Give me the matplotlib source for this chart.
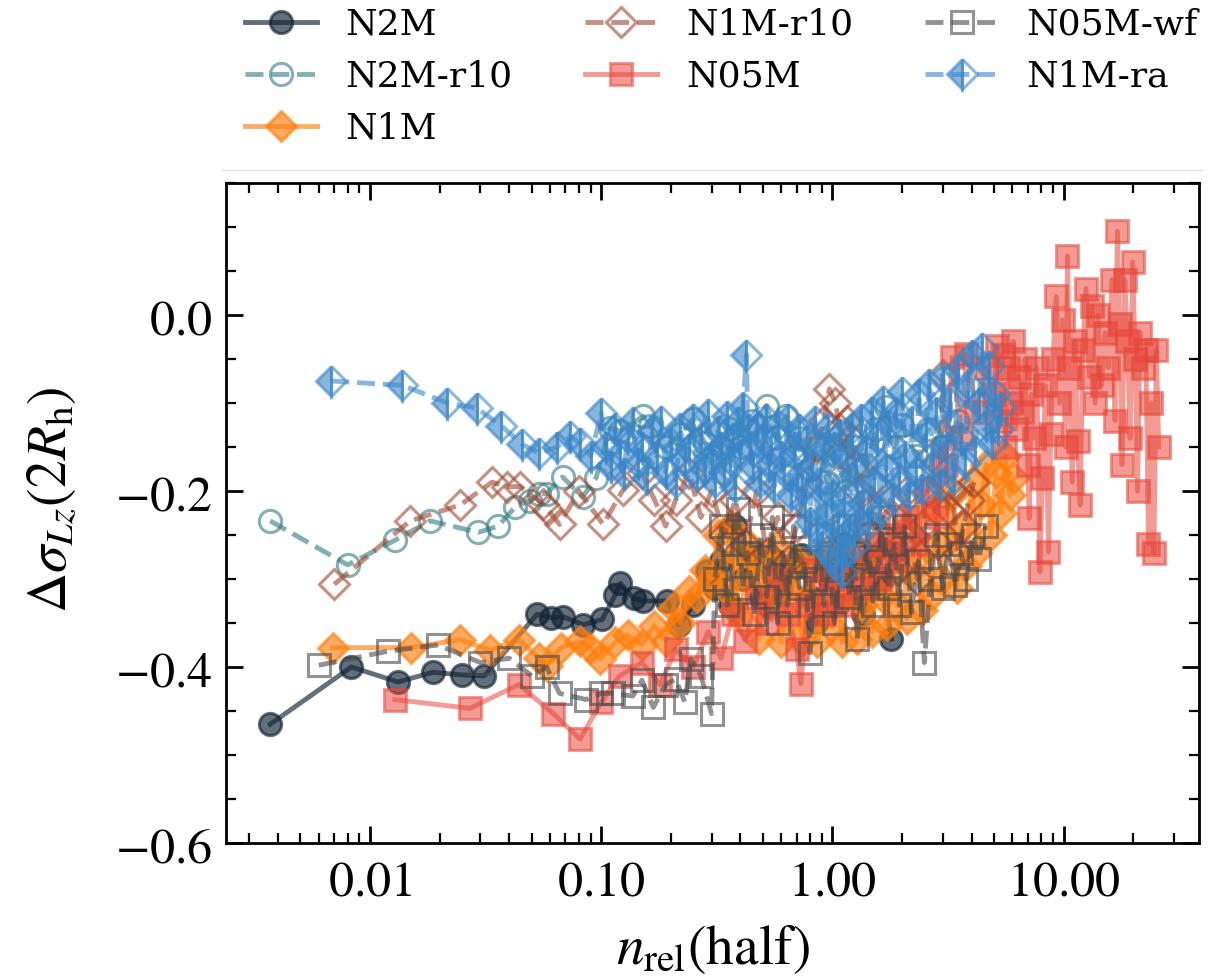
import matplotlib
matplotlib.use("Agg")
import matplotlib.pyplot as plt
from matplotlib.lines import Line2D
from matplotlib.ticker import FuncFormatter, MultipleLocator, LogLocator, NullFormatter

plt.rcParams['font.family'] = 'DejaVu Serif'
plt.rcParams['mathtext.fontset'] = 'stix'

# --- snapshot series: relaxation count vs change of sigma_Lz at 2 R_h ---
n2m_x = [0.0037, 0.0083, 0.0132, 0.0187, 0.0250, 0.0312, 0.0528, 0.0608, 0.0685, 0.0836,
         0.101, 0.115, 0.121, 0.138, 0.151, 0.193, 0.216, 0.250, 0.288, 0.31,
         0.33, 0.36, 0.38, 0.41, 0.45, 0.49, 0.52, 0.56, 0.60, 0.66,
         0.73, 0.80, 0.86, 0.92, 0.98, 1.05, 1.12, 1.20, 1.28, 1.35,
         1.45, 1.55, 1.65, 1.80]
n2m_y = [-0.465, -0.400, -0.417, -0.406, -0.409, -0.410, -0.340, -0.344, -0.343, -0.352,
         -0.346, -0.318, -0.305, -0.322, -0.325, -0.325, -0.352, -0.330, -0.291, -0.310,
         -0.280, -0.330, -0.240, -0.300, -0.270, -0.320, -0.330, -0.280, -0.310, -0.290,
         -0.273, -0.320, -0.349, -0.280, -0.300, -0.330, -0.260, -0.290, -0.320, -0.340,
         -0.280, -0.310, -0.300, -0.368]

n2m_r10_x = [0.0037, 0.0080, 0.0128, 0.0182, 0.0294, 0.0358, 0.0425, 0.049, 0.054, 0.058,
             0.068, 0.083, 0.095, 0.109, 0.121, 0.152, 0.162, 0.19, 0.22, 0.25,
             0.28, 0.32, 0.36, 0.40, 0.45, 0.52, 0.57, 0.63, 0.68, 0.72,
             0.80, 0.88, 0.95, 1.05, 1.15, 1.25, 1.40, 1.55, 1.70, 1.85,
             2.00, 2.30, 2.60, 3.00, 3.50]
n2m_r10_y = [-0.234, -0.284, -0.256, -0.234, -0.247, -0.240, -0.218, -0.211, -0.203, -0.203,
             -0.184, -0.207, -0.185, -0.129, -0.132, -0.115, -0.126, -0.150, -0.135, -0.118,
             -0.145, -0.160, -0.130, -0.150, -0.120, -0.103, -0.140, -0.115, -0.160, -0.140,
             -0.175, -0.150, -0.190, -0.160, -0.200, -0.150, -0.170, -0.130, -0.105, -0.150,
             -0.125, -0.160, -0.130, -0.150, -0.120]

n1m_x = [0.0069, 0.0150, 0.0245, 0.033, 0.044, 0.054, 0.058, 0.067, 0.081, 0.089,
         0.099, 0.115, 0.13, 0.15, 0.17, 0.19, 0.205, 0.22, 0.24,
         0.26, 0.28, 0.30, 0.32, 0.34, 0.36, 0.38, 0.40, 0.42, 0.44,
         0.46, 0.48, 0.51, 0.54, 0.57, 0.60, 0.63, 0.66, 0.70, 0.74,
         0.78, 0.82, 0.86, 0.90, 0.95, 1.00, 1.05, 1.10, 1.16, 1.22,
         1.28, 1.34, 1.41, 1.48, 1.56, 1.64, 1.72, 1.81, 1.90, 2.00,
         2.10, 2.21, 2.32, 2.44, 2.56, 2.69, 2.83, 2.97, 3.12, 3.28,
         3.45, 3.62, 3.80, 4.00, 4.20, 4.40, 4.62, 4.85, 5.10, 5.35,
         5.60, 5.85, 6.10]
n1m_y = [-0.378, -0.378, -0.369, -0.381, -0.369, -0.390, -0.399, -0.378, -0.371, -0.378,
         -0.391, -0.372, -0.364, -0.375, -0.353, -0.370, -0.333, -0.350, -0.314,
         -0.320, -0.290, -0.300, -0.250, -0.310, -0.240, -0.335, -0.275, -0.350, -0.262,
         -0.300, -0.368, -0.285, -0.330, -0.262, -0.372, -0.310, -0.345, -0.280, -0.370,
         -0.320, -0.290, -0.372, -0.330, -0.268, -0.355, -0.300, -0.372, -0.318, -0.275,
         -0.368, -0.330, -0.290, -0.360, -0.262, -0.320, -0.352, -0.270, -0.330, -0.248,
         -0.345, -0.290, -0.230, -0.335, -0.265, -0.318, -0.220, -0.300, -0.258, -0.205,
         -0.310, -0.240, -0.285, -0.190, -0.270, -0.215, -0.170, -0.250, -0.180, -0.225,
         -0.160, -0.205, -0.185]

n1m_r10_x = [0.0070, 0.0149, 0.0245, 0.0337, 0.039, 0.0446, 0.056, 0.059, 0.066, 0.080,
             0.102, 0.124, 0.15, 0.17, 0.19, 0.21, 0.24, 0.27, 0.30, 0.34,
             0.38, 0.42, 0.47, 0.52, 0.58, 0.64, 0.70, 0.78, 0.85, 0.92,
             0.97, 1.03, 1.08, 1.12, 1.16, 1.20, 1.25, 1.30, 1.36, 1.42,
             1.48, 1.55, 1.62, 1.70, 1.78, 1.85, 1.92, 2.00, 2.10, 2.20,
             2.32, 2.45, 2.58, 2.70, 2.85, 3.00, 3.15, 3.30, 3.50, 3.70,
             3.90, 4.10]
n1m_r10_y = [-0.306, -0.234, -0.216, -0.190, -0.195, -0.195, -0.215, -0.222, -0.238, -0.200,
             -0.238, -0.199, -0.180, -0.210, -0.240, -0.210, -0.180, -0.230, -0.200, -0.250,
             -0.210, -0.260, -0.200, -0.270, -0.230, -0.280, -0.240, -0.190, -0.150, -0.120,
             -0.084, -0.100, -0.130, -0.160, -0.120, -0.140, -0.170, -0.200, -0.240, -0.250,
             -0.190, -0.220, -0.280, -0.270, -0.210, -0.230, -0.290, -0.260, -0.200, -0.250,
             -0.300, -0.240, -0.200, -0.160, -0.260, -0.068, -0.220, -0.200, -0.270, -0.240,
             -0.210, -0.190]

n05m_x = [0.0128, 0.027, 0.044, 0.062, 0.081, 0.10, 0.12, 0.15, 0.18, 0.21,
          0.25, 0.29, 0.33, 0.37, 0.42, 0.47, 0.52, 0.58, 0.64, 0.70,
          0.73, 0.78, 0.85, 0.92, 1.00, 1.10, 1.20, 1.32, 1.45, 1.60,
          1.75, 1.90, 2.10, 2.30, 2.55, 2.80, 3.10, 3.30, 3.60, 3.80,
          4.20, 4.60, 5.00, 5.15, 5.30, 5.45, 5.60, 5.75, 5.90, 6.05,
          6.20, 6.40, 6.60, 6.80, 7.00, 7.10, 7.25, 7.45, 7.65, 7.90,
          8.10, 8.35, 8.60, 8.80, 9.00, 9.30, 9.60, 9.90, 10.2, 10.4,
          10.6, 10.9, 11.2, 11.5, 11.8, 12.1, 12.5, 12.9, 13.3, 13.7,
          14.1, 14.6, 15.1, 15.6, 16.2, 16.7, 17.1, 17.5, 17.9, 18.4,
          18.9, 19.4, 19.9, 20.4, 20.9, 21.4, 22.0, 22.7, 23.3, 24.0,
          24.6, 25.2, 25.8]
n05m_y = [-0.437, -0.447, -0.420, -0.453, -0.482, -0.440, -0.410, -0.395, -0.420, -0.380,
          -0.400, -0.360, -0.390, -0.340, -0.370, -0.320, -0.350, -0.300, -0.340, -0.380,
          -0.419, -0.330, -0.290, -0.340, -0.300, -0.330, -0.280, -0.310, -0.260, -0.300,
          -0.250, -0.280, -0.230, -0.260, -0.200, -0.230, -0.170, -0.048, -0.140, -0.044,
          -0.110, -0.060, -0.090, -0.035, -0.120, -0.045, -0.150, -0.060, -0.100, -0.030,
          -0.130, -0.070, -0.110, -0.050, -0.170, -0.231, -0.090, -0.140, -0.060, -0.292,
          -0.185, -0.080, -0.269, -0.135, -0.050, 0.021, -0.100, -0.006, -0.150, 0.067,
          -0.060, -0.190, -0.030, -0.143, -0.216, -0.040, 0.030, -0.070, 0.010, -0.100,
          0.000, -0.080, -0.020, -0.060, 0.040, -0.120, 0.095, -0.010, -0.170, 0.040,
          -0.030, -0.140, 0.060, -0.050, -0.200, -0.020, -0.060, -0.040, -0.260, -0.100,
          -0.270, -0.040, -0.150]

n05m_wf_x = [0.0060, 0.0120, 0.0197, 0.030, 0.040, 0.050, 0.058, 0.066, 0.086, 0.100,
             0.112, 0.137, 0.150, 0.168, 0.190, 0.21, 0.23, 0.244, 0.27, 0.30,
             0.31, 0.33, 0.35, 0.37, 0.39, 0.41, 0.43, 0.46, 0.49, 0.52,
             0.55, 0.58, 0.61, 0.64, 0.68, 0.72, 0.76, 0.80, 0.84, 0.88,
             0.92, 0.97, 1.02, 1.07, 1.12, 1.18, 1.24, 1.28, 1.35, 1.42,
             1.50, 1.58, 1.66, 1.75, 1.85, 1.95, 2.05, 2.20, 2.35, 2.50,
             2.65, 2.80, 3.00, 3.20, 3.40, 3.60, 3.80, 4.05, 4.30, 4.60]
n05m_wf_y = [-0.398, -0.382, -0.375, -0.395, -0.390, -0.410, -0.400, -0.430, -0.437, -0.430,
             -0.430, -0.433, -0.415, -0.446, -0.420, -0.414, -0.440, -0.391, -0.410, -0.453,
             -0.300, -0.240, -0.330, -0.260, -0.220, -0.310, -0.270, -0.340, -0.250, -0.320,
             -0.230, -0.350, -0.270, -0.330, -0.240, -0.310, -0.280, -0.384, -0.300, -0.250,
             -0.330, -0.270, -0.350, -0.290, -0.240, -0.320, -0.270, -0.368, -0.300, -0.250,
             -0.330, -0.280, -0.230, -0.310, -0.260, -0.330, -0.240, -0.338, -0.280, -0.395,
             -0.300, -0.250, -0.310, -0.260, -0.307, -0.270, -0.300, -0.250, -0.277, -0.240]

n1m_ra_x = [0.0068, 0.0138, 0.0216, 0.029, 0.037, 0.0455, 0.054, 0.0645, 0.0735, 0.081,
            0.090, 0.100, 0.105, 0.110, 0.115, 0.120, 0.125, 0.130, 0.137, 0.144,
            0.150, 0.158, 0.166, 0.174, 0.182, 0.19, 0.20, 0.21, 0.22, 0.23,
            0.24, 0.25, 0.26, 0.27, 0.28, 0.29, 0.30, 0.31, 0.32, 0.33,
            0.34, 0.35, 0.36, 0.37, 0.38, 0.39, 0.40, 0.41, 0.425, 0.43,
            0.44, 0.455, 0.47, 0.485, 0.50, 0.515, 0.53, 0.545, 0.56, 0.58,
            0.60, 0.62, 0.64, 0.66, 0.68, 0.70, 0.72, 0.74, 0.76, 0.78,
            0.80, 0.82, 0.84, 0.86, 0.88, 0.90, 0.92, 0.94, 0.96, 0.98,
            1.00, 1.02, 1.04, 1.06, 1.08, 1.10, 1.12, 1.14, 1.16, 1.18,
            1.21, 1.24, 1.27, 1.30, 1.33, 1.36, 1.40, 1.44, 1.48, 1.52,
            1.56, 1.61, 1.66, 1.71, 1.76, 1.82, 1.88, 1.94, 2.00, 2.07,
            2.14, 2.21, 2.29, 2.37, 2.45, 2.54, 2.63, 2.72, 2.82, 2.92,
            3.02, 3.13, 3.24, 3.36, 3.48, 3.60, 3.73, 3.86, 4.00, 4.15,
            4.30, 4.45, 4.60, 4.75, 4.90, 5.05, 5.20, 5.35]
n1m_ra_y = [-0.075, -0.080, -0.100, -0.106, -0.126, -0.147, -0.157, -0.150, -0.138, -0.146,
            -0.160, -0.111, -0.150, -0.172, -0.128, -0.158, -0.180, -0.140, -0.122, -0.168,
            -0.150, -0.185, -0.132, -0.160, -0.120, -0.178, -0.145, -0.190, -0.128, -0.165,
            -0.152, -0.118, -0.182, -0.140, -0.175, -0.112, -0.160, -0.190, -0.132, -0.150,
            -0.178, -0.115, -0.165, -0.140, -0.195, -0.122, -0.158, -0.105, -0.045, -0.130,
            -0.150, -0.172, -0.128, -0.190, -0.140, -0.118, -0.170, -0.152, -0.195, -0.125,
            -0.160, -0.178, -0.118, -0.205, -0.150, -0.185, -0.130, -0.198, -0.215, -0.142,
            -0.235, -0.170, -0.120, -0.245, -0.190, -0.262, -0.150, -0.228, -0.128, -0.272,
            -0.205, -0.150, -0.282, -0.240, -0.135, -0.292, -0.210, -0.268, -0.160, -0.245,
            -0.128, -0.262, -0.180, -0.235, -0.118, -0.215, -0.155, -0.238, -0.110, -0.190,
            -0.140, -0.222, -0.098, -0.175, -0.125, -0.208, -0.110, -0.185, -0.088, -0.160,
            -0.205, -0.120, -0.178, -0.090, -0.198, -0.135, -0.078, -0.170, -0.110, -0.192,
            -0.072, -0.150, -0.100, -0.185, -0.062, -0.140, -0.168, -0.080, -0.045, -0.155,
            -0.100, -0.038, -0.125, -0.058, -0.145, -0.090, -0.130, -0.105]

series = [
    (n2m_x, n2m_y, 'N2M', dict(marker='o', ls='-', color='#102234', alpha=0.65)),
    (n2m_r10_x, n2m_r10_y, 'N2M-r10',
     dict(marker='o', ls='--', color='#2e7b82', alpha=0.6, mfc='none')),
    (n1m_x, n1m_y, 'N1M', dict(marker='D', ls='-', color='#ff7f0e', alpha=0.65)),
    (n1m_r10_x, n1m_r10_y, 'N1M-r10',
     dict(marker='D', ls='--', color='#a0452d', alpha=0.6, mfc='none')),
    (n05m_x, n05m_y, 'N05M', dict(marker='s', ls='-', color='#e8473a', alpha=0.55)),
    (n05m_wf_x, n05m_wf_y, 'N05M-wf',
     dict(marker='s', ls='--', color='#4a4a4a', alpha=0.6, mfc='none')),
    (n1m_ra_x, n1m_ra_y, 'N1M-ra',
     dict(marker='D', ls='--', color='#3a86c8', alpha=0.6, fillstyle='left',
          markerfacecoloralt='none')),
]

fig = plt.figure(figsize=(12.2, 9.8), dpi=100)
ax = fig.add_axes([0.1852, 0.1398, 0.7975, 0.6735])

for xs, ys, name, style in series:
    size = 15 if style['marker'] == 'D' else 16
    ax.plot(xs, ys, ms=size, mew=2.2, lw=3.5, label=name, **style)

ax.set_xscale('log')
ax.set_xlim(0.00238, 38.5)
ax.set_ylim(-0.6, 0.15)

ax.xaxis.set_major_locator(LogLocator(base=10, numticks=10))
ax.xaxis.set_minor_locator(LogLocator(base=10, subs=range(2, 10), numticks=20))
ax.xaxis.set_major_formatter(FuncFormatter(lambda v, p: r'$%.2f$' % v))
ax.xaxis.set_minor_formatter(NullFormatter())
ax.yaxis.set_major_locator(MultipleLocator(0.2))
ax.yaxis.set_minor_locator(MultipleLocator(0.05))
ax.yaxis.set_major_formatter(FuncFormatter(lambda v, p: r'$%.1f$' % v))

ax.tick_params(which='both', direction='in', top=True, right=True)
ax.tick_params(which='major', length=12, width=2, labelsize=36, pad=10)
ax.tick_params(which='minor', length=7, width=1.6)
for s in ax.spines.values():
    s.set_linewidth(2)

ax.set_xlabel(r'$n_{\rm rel}({\rm half})$', fontsize=40)
ax.set_ylabel(r'$\Delta\sigma_{Lz}(2R_{\rm h})$', fontsize=40)
ax.xaxis.set_label_coords(0.5, -0.118)
ax.yaxis.set_label_coords(-0.152, 0.52)

leg = fig.legend(loc='lower left', bbox_to_anchor=(0.1886, 0.8367), ncol=3,
                 fontsize=26, frameon=False, borderaxespad=0)
# faint rule under the legend block
fig.add_artist(Line2D([0.182, 0.985], [0.8265, 0.8265], color='#e4e4e4', lw=1.0,
                      transform=fig.transFigure))

fig.savefig('out.png', dpi=100)
